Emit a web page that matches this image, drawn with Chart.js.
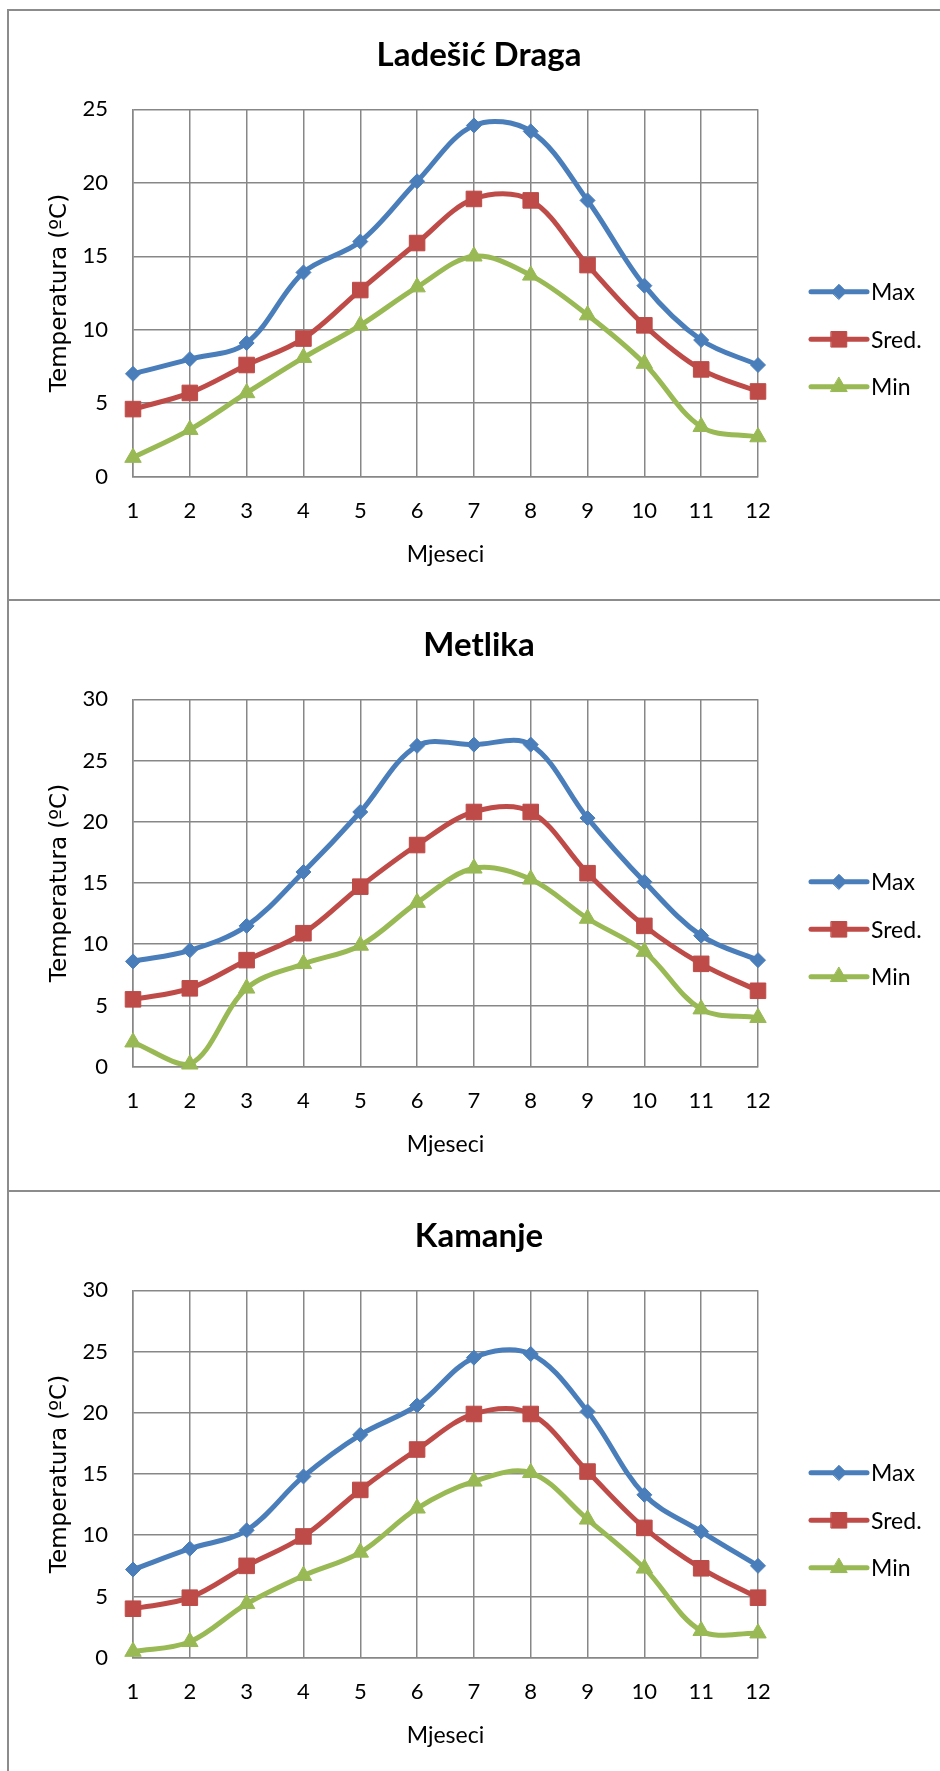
<!DOCTYPE html>
<html>
<head>
<meta charset="utf-8">
<script src="https://cdn.jsdelivr.net/npm/chart.js@4.4.1/dist/chart.umd.min.js"></script>
<style>
  html, body { margin: 0; padding: 0; background: #fff; overflow: hidden; }
  body { width: 940px; height: 1771px; position: relative; }
  .panel { position: absolute; left: 7px; width: 933px; border-left: 2px solid #8c8c8c; border-top: 2px solid #8c8c8c; }
  .panel canvas { position: absolute; left: 9px; top: 0; }
</style>
</head>
<body>
<div class="panel" style="top:9px;height:588px"><canvas id="c1" width="922" height="588"></canvas></div>
<div class="panel" style="top:599px;height:589px"><canvas id="c2" width="922" height="588"></canvas></div>
<div class="panel" style="top:1190px;height:581px"><canvas id="c3" width="922" height="588"></canvas></div>
<script>
// months on the x axis
const months = ["1", "2", "3", "4", "5", "6", "7", "8", "9", "10", "11", "12"];
const seriesNames = ["Max", "Sred.", "Min"];

// Ladešić Draga
const ladesicMax = [7.0, 8.0, 9.1, 13.9, 16.0, 20.1, 23.9, 23.5, 18.8, 13.0, 9.3, 7.6];
const ladesicSred = [4.6, 5.7, 7.6, 9.4, 12.7, 15.9, 18.9, 18.8, 14.4, 10.3, 7.3, 5.8];
const ladesicMin = [1.3, 3.2, 5.7, 8.1, 10.3, 12.9, 15.0, 13.7, 11.0, 7.7, 3.4, 2.7];

// Metlika
const metlikaMax = [8.6, 9.5, 11.5, 15.9, 20.8, 26.2, 26.3, 26.3, 20.3, 15.1, 10.7, 8.7];
const metlikaSred = [5.5, 6.4, 8.7, 10.9, 14.7, 18.1, 20.8, 20.8, 15.8, 11.5, 8.4, 6.2];
const metlikaMin = [2.0, 0.2, 6.4, 8.4, 9.9, 13.4, 16.2, 15.3, 12.1, 9.4, 4.7, 4.0];

// Kamanje
const kamanjeMax = [7.2, 8.9, 10.4, 14.8, 18.2, 20.6, 24.5, 24.8, 20.1, 13.3, 10.3, 7.5];
const kamanjeSred = [4.0, 4.9, 7.5, 9.9, 13.7, 17.0, 19.9, 19.9, 15.2, 10.6, 7.3, 4.9];
const kamanjeMin = [0.5, 1.3, 4.4, 6.7, 8.6, 12.2, 14.4, 15.1, 11.3, 7.3, 2.2, 2.0];

const gridColor = "#878787";
const lineStyles = [
  { color: "#4a7ebb", marker: "rectRot", radius: 7.5 },
  { color: "#be4b48", marker: "rect", radius: 11 },
  { color: "#98b954", marker: "triangle", radius: 9.5 },
];

// legend drawn to the right of the plot: line + marker + label
const sideLegend = {
  id: "sideLegend",
  afterDraw(chart) {
    const { ctx, chartArea } = chart;
    chart.data.datasets.forEach((ds, i) => {
      const y = chartArea.top + 182.5 + i * 47.5;
      const x0 = chartArea.right + 53;
      const x1 = x0 + 56;
      ctx.save();
      ctx.strokeStyle = ds.borderColor;
      ctx.fillStyle = ds.borderColor;
      ctx.lineWidth = ds.borderWidth;
      ctx.lineCap = "round";
      ctx.beginPath();
      ctx.moveTo(x0, y);
      ctx.lineTo(x1, y);
      ctx.stroke();
      ctx.lineWidth = 1;
      Chart.helpers.drawPoint(ctx, { pointStyle: ds.pointStyle, radius: ds.pointRadius, rotation: 0, borderWidth: 1 }, (x0 + x1) / 2, y);
      ctx.fillStyle = "#000";
      ctx.font = "23px Lato";
      ctx.textBaseline = "middle";
      ctx.textAlign = "left";
      ctx.fillText(ds.label, x1 + 4, y + 1);
      ctx.restore();
    });
  },
};

function makeChart(id, title, yMax, series) {
  const ctx = document.getElementById(id);
  return new Chart(ctx, {
    type: "line",
    data: {
      labels: months,
      datasets: series.map((values, i) => ({
        label: seriesNames[i],
        data: values,
        borderColor: lineStyles[i].color,
        backgroundColor: lineStyles[i].color,
        borderWidth: 5,
        tension: 0.35,
        pointStyle: lineStyles[i].marker,
        pointRadius: lineStyles[i].radius,
        pointBackgroundColor: lineStyles[i].color,
        pointBorderColor: lineStyles[i].color,
        pointBorderWidth: 1,
        clip: false,
        fill: false,
      })),
    },
    options: {
      responsive: false,
      animation: false,
      devicePixelRatio: 1,
      layout: { padding: 0 },
      plugins: {
        legend: { display: false },
        tooltip: { enabled: false },
        title: {
          display: true,
          text: title,
          color: "#000",
          font: { family: "Lato", size: 33, weight: "bold" },
          padding: { top: 24.7, bottom: 34 },
        },
      },
      scales: {
        x: {
          offset: false,
          grid: { color: gridColor, lineWidth: 1.5, drawTicks: false },
          border: { color: gridColor, width: 1.5 },
          ticks: { color: "#000", font: { family: "Lato", size: 22 }, padding: 21, maxRotation: 0 },
          title: {
            display: true,
            text: "Mjeseci",
            color: "#000",
            font: { family: "Lato", size: 23 },
            padding: { top: 0, bottom: 31 },
          },
          afterFit: (axis) => { axis.height = 122.3; },
        },
        y: {
          min: 0,
          max: yMax,
          grid: { color: gridColor, lineWidth: 1.5, drawTicks: false },
          border: { color: gridColor, width: 1.5 },
          ticks: { stepSize: 5, color: "#000", font: { family: "Lato", size: 22 }, padding: 25 },
          title: {
            display: true,
            text: "Temperatura (ºC)",
            color: "#000",
            font: { family: "DejaVu Sans", size: 23 },
            padding: { top: 28, bottom: 0 },
          },
          afterFit: (axis) => { axis.width = 115; },
        },
        // empty right-hand box that leaves room for the legend
        legendSpace: {
          type: "linear",
          position: "right",
          grid: { display: false },
          border: { display: false },
          ticks: { display: false },
          afterFit: (axis) => { axis.width = 182; },
        },
      },
    },
    plugins: [sideLegend],
  });
}

makeChart("c1", "Ladešić Draga", 25, [ladesicMax, ladesicSred, ladesicMin]);
makeChart("c2", "Metlika", 30, [metlikaMax, metlikaSred, metlikaMin]);
makeChart("c3", "Kamanje", 30, [kamanjeMax, kamanjeSred, kamanjeMin]);
</script>
</body>
</html>
